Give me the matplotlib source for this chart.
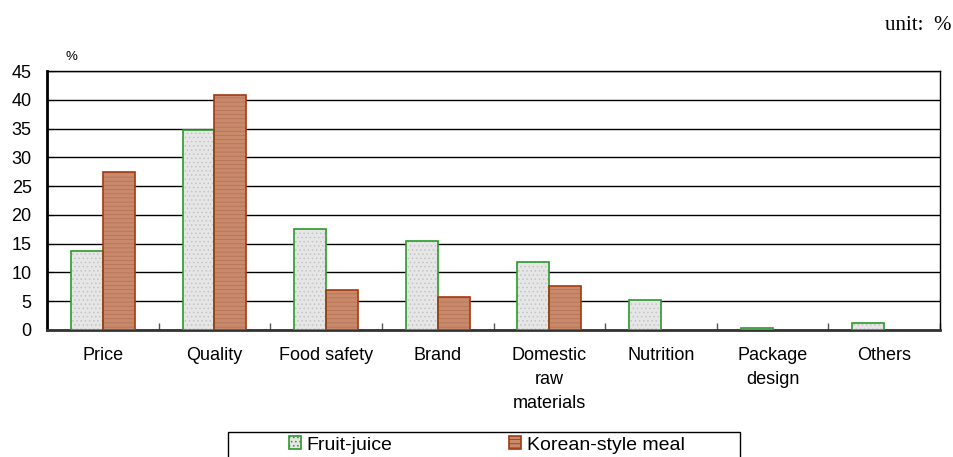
import matplotlib.pyplot as plt
import numpy as np

categories = ['Price', 'Quality', 'Food safety', 'Brand', 'Domestic\nraw\nmaterials',
              'Nutrition', 'Package\ndesign', 'Others']
fruit_juice = [13.8, 34.8, 17.6, 15.5, 11.8, 5.2, 0.3, 1.2]
korean_meal = [27.5, 40.9, 6.9, 5.7, 7.6, 0, 0, 0]
series_names = ['Fruit-juice', 'Korean-style meal']

plt.rcParams['font.family'] = ['Liberation Sans', 'DejaVu Sans']
plt.rcParams['hatch.linewidth'] = 0.6

fig = plt.figure(figsize=(9.54, 4.57), dpi=100)
ax = fig.add_axes([47 / 954, 1 - 330 / 457, 893 / 954, 259 / 457])

x = np.arange(len(categories))
w = 0.285

# fond + motif, puis contour
ax.bar(x - w / 2, fruit_juice, w, color='#e6e6e6', edgecolor='#c4c4c4', hatch='....', lw=0, zorder=3)
ax.bar(x + w / 2, korean_meal, w, color='#c98a6c', edgecolor='#b57258', hatch='----', lw=0, zorder=3)
b1 = ax.bar(x - w / 2, fruit_juice, w, fill=False, edgecolor='#2a9a2a', lw=1.2, zorder=4)
b2 = ax.bar(x + w / 2, korean_meal, w, fill=False, edgecolor='#a33a10', lw=1.2, zorder=4)
for b, v in zip(list(b1) + list(b2), fruit_juice + korean_meal):
    if v == 0:
        b.set_visible(False)

ax.set_xlim(-0.5, len(categories) - 0.5)
ax.set_ylim(0, 45)
ax.set_yticks(np.arange(0, 46, 5))
ax.yaxis.grid(True, color='black', lw=1.0, zorder=0)
ax.set_xticks(x)
ax.set_xticklabels(categories, fontsize=13, linespacing=1.55, va='top')
ax.tick_params(axis='x', length=0, pad=12)
ax.set_xticks(np.arange(-0.5, len(categories), 1), minor=True)
ax.tick_params(axis='x', which='minor', direction='in', length=5, width=1, color='#555555')
ax.tick_params(axis='y', direction='in', length=5, labelsize=13, pad=11)
for s in ax.spines.values():
    s.set_color('black')
    s.set_linewidth(1.0)
ax.spines['left'].set_linewidth(2)
ax.spines['bottom'].set_linewidth(2)
ax.spines['bottom'].set_color('#333333')

fig.text(71 / 954, 1 - 57 / 457, '%', fontsize=9.5, ha='center', va='center')
fig.text(952 / 954, 1 - 26 / 457, 'unit:  %', fontsize=15, ha='right', va='center',
         family=['Liberation Serif', 'DejaVu Serif'])

# cadre de la légende (coupé en bas comme l'original)
fig.patches.append(plt.Rectangle((228 / 954, -10 / 457), 512 / 954, (457 - 432 + 10) / 457,
                                 transform=fig.transFigure, fill=False, edgecolor='black', lw=1.0))
h1 = plt.Rectangle((0, 0), 1, 1, facecolor='#e6e6e6', edgecolor='#2a9a2a', hatch='....', lw=1.2)
h2 = plt.Rectangle((0, 0), 1, 1, facecolor='#c98a6c', edgecolor='#a33a10', hatch='----', lw=1.2)
leg = fig.legend([h1, h2], series_names, ncol=2, loc='center left',
                 bbox_to_anchor=(289 / 954, 1 - 445 / 457), frameon=False,
                 fontsize=14, handlelength=0.6, handleheight=0.6, handletextpad=0.3,
                 borderpad=0, borderaxespad=0, columnspacing=6.0)

fig.savefig('out.png', dpi=100)
